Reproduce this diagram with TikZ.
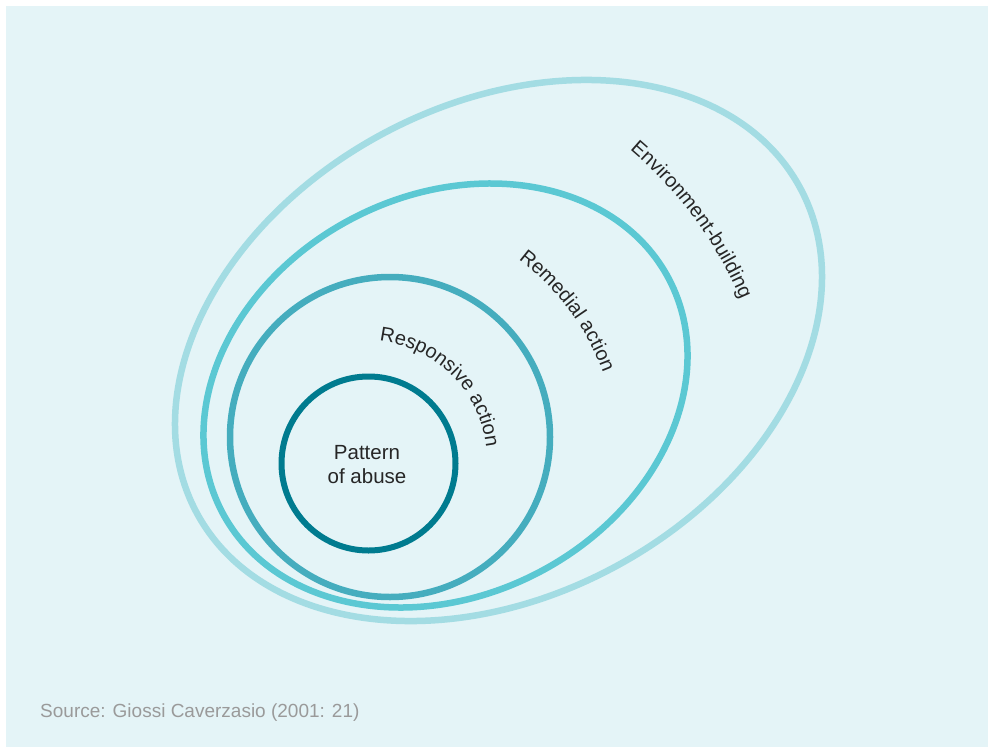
\documentclass[tikz,border=0pt]{standalone}
\usepackage{fontspec}
\setmainfont{Liberation Sans}
\usetikzlibrary{decorations.text}
\definecolor{bgc}{HTML}{E4F4F7}
\definecolor{ringA}{HTML}{007B8F}
\definecolor{ringB}{HTML}{45ADBE}
\definecolor{ringC}{HTML}{5BC8D3}
\definecolor{ringD}{HTML}{A3DCE3}
\definecolor{labelc}{HTML}{262626}
\definecolor{srcc}{HTML}{9A9A9A}
\newcommand{\lblfont}{\fontsize{20}{24}\selectfont}
\newcommand{\corefont}{\fontsize{20.5}{24}\selectfont}
\tikzset{
  ring/.style={line width=6.5pt},
  arclabel/.style={decorate, decoration={text along path, text align=center, text color=labelc, text={|\lblfont|#1}}}
}
\begin{document}
\begin{tikzpicture}[x=1pt,y=1pt]
\useasboundingbox (0,0) rectangle (988,-747);
\fill[bgc] (6,-6) rectangle (988,-747);
\coordinate (ctr) at (366,-461);
% rings
\draw[ring, ringD, rotate around={28.3:(498.5,-350.5)}] (498.5,-350.5) ellipse [x radius=342.7, y radius=245.7];
\draw[ring, ringC, rotate around={27.3:(445.5,-395.5)}] (445.5,-395.5) ellipse [x radius=252, y radius=200];
\node[ring, draw=ringB, circle, minimum size=320pt, inner sep=0pt] (resp) at (390,-437) {};
\node[line width=6pt, draw=ringA, circle, minimum size=174pt, inner sep=0pt] (core) at (368.5,-463.5) {};
% labels
\node[align=center, text=labelc, font=\corefont] (abuse) at (367,-465) {Pattern\\of abuse};
\path[arclabel={Responsive action}] ([shift={(115:121)}]ctr) arc[start angle=115, end angle=-25, radius=121];
\path[arclabel={Remedial action}] ([shift={(76.7:253)}]ctr) arc[start angle=76.7, end angle=-3.3, radius=253];
\path[arclabel={Environment-building}] ([shift={(66.5:408)}]ctr) arc[start angle=66.5, end angle=6.5, radius=408];
\node[anchor=base west, text=srcc, font=\fontsize{19}{24}\selectfont, inner sep=0pt] (src) at (40,-717) {Source: Giossi Caverzasio (2001: 21)};
\end{tikzpicture}
\end{document}
